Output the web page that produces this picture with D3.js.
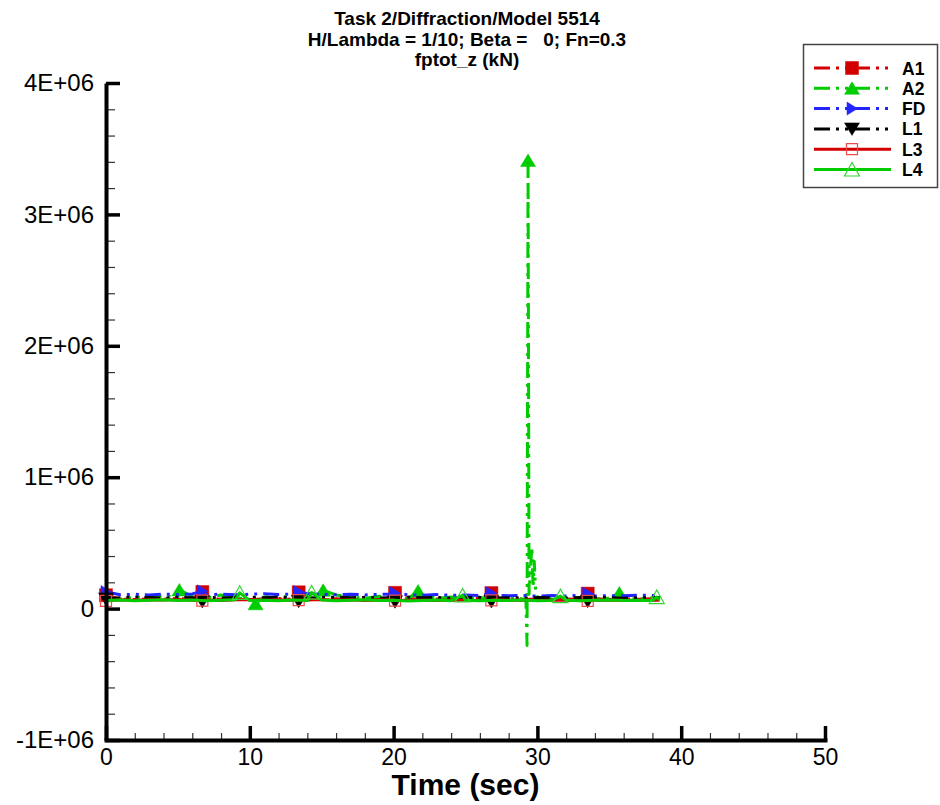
<!DOCTYPE html>
<html><head><meta charset="utf-8">
<script src="https://cdn.jsdelivr.net/npm/d3@7"></script>
<style>
body{margin:0;background:#fff}
svg{display:block}
text{font-family:"Liberation Sans",Arial,Helvetica,sans-serif}
</style>
</head><body>
<svg id="c" width="940" height="805"></svg>
<script>
// ---------- data (kN) ----------
const titleLines = ["Task 2/Diffraction/Model 5514", "H/Lambda = 1/10; Beta =   0; Fn=0.3", "fptot_z (kN)"];
const xTicks = [0, 10, 20, 30, 40, 50];
const yTicks = [-1e6, 0, 1e6, 2e6, 3e6, 4e6];
const yTickLabels = ["-1E+06", "0", "1E+06", "2E+06", "3E+06", "4E+06"];
const seriesNames = ["A1", "A2", "FD", "L1", "L3", "L4"];

const time = [0,1,2,3,4,5,6,7,8,9,10,11,12,13,14,15,16,17,18,19,20,21,22,23,24,25,26,27,28,29,30,31,32,33,34,35,36,37,38,38.5];

const a1 = [76000,72000,69000,75000,71000,77000,73000,78000,72000,76000,70000,74000,77000,71000,76000,72000,75000,69000,74000,77000,73000,76000,70000,74000,71000,75000,77000,72000,74000,70000,73000,69000,74000,71000,75000,70000,73000,72000,76000,74000];
const a1Marks = [[0,102000],[6.7,126000],[13.4,124000],[20.1,120000],[26.8,118000],[33.5,114000]];

const a2 = [84000,74000,89000,79000,99000,84000,94000,79000,104000,84000,69000,89000,99000,79000,94000,84000,104000,89000,79000,94000,84000,74000,99000,79000,89000,74000,84000,69000,79000,74000,84000,79000,69000,84000,74000,79000,72000,76000,82000,84000];
const a2Marks = [[5.1,142000],[10.4,36000],[15.1,139000],[21.7,134000],[29.35,3410000],[35.7,119000]];
const a2Spike = [[29.2,74000],[29.28,-280000],[29.42,110000],[29.52,320000],[29.62,470000],[29.7,160000],[29.78,360000],[29.88,130000]];

const fd = [119000,106000,109000,104000,111000,107000,112000,106000,110000,105000,109000,113000,108000,111000,114000,108000,105000,110000,104000,108000,111000,105000,102000,107000,101000,104000,99000,103000,97000,100000,95000,99000,96000,101000,95000,99000,97000,102000,100000,106000];
const fdMarks = [[0,126000],[6.7,132000],[13.4,126000],[20.1,117000],[26.8,116000],[33.5,114000]];

const l1 = [86000,82000,88000,84000,80000,86000,83000,87000,81000,85000,88000,82000,86000,84000,80000,85000,87000,83000,86000,81000,84000,88000,82000,85000,80000,84000,86000,81000,83000,79000,84000,82000,80000,85000,81000,83000,79000,82000,84000,83000];
const l1Marks = [[0,74000],[6.7,54000],[13.4,56000],[20.1,52000],[26.8,54000],[33.5,56000]];

const l3 = [64000,68000,63000,67000,65000,69000,64000,66000,62000,67000,70000,64000,68000,63000,66000,69000,64000,67000,62000,66000,68000,63000,65000,61000,66000,64000,62000,67000,63000,65000,61000,64000,66000,62000,65000,63000,64000,61000,65000,64000];
const l3Marks = [[0,59000],[6.7,61000],[13.4,64000],[20.1,60000],[26.8,62000],[33.5,59000]];

const l4 = [62000,66000,60000,64000,68000,61000,65000,59000,63000,67000,61000,64000,60000,66000,62000,65000,59000,63000,67000,61000,64000,58000,62000,66000,60000,64000,59000,63000,61000,65000,59000,62000,64000,60000,63000,66000,61000,64000,62000,65000];
const l4Marks = [[9.3,120000],[14.3,122000],[24.8,100000],[31.6,95000],[38.3,88000]];

// ---------- styles ----------
const RED = "#d20000", GREEN = "#00cc00", BLUE = "#2424ff", BLACK = "#000000";
const DASH = "16,6,3,6,3,6";
const series = [
  {name: seriesNames[0], vals: a1, marks: a1Marks, extra: [], color: RED,   dash: DASH, marker: "square",  filled: true},
  {name: seriesNames[1], vals: a2, marks: a2Marks, extra: a2Spike, color: GREEN, dash: DASH, marker: "triUp",   filled: true},
  {name: seriesNames[2], vals: fd, marks: fdMarks, extra: [], color: BLUE,  dash: DASH, marker: "triRight",filled: true},
  {name: seriesNames[3], vals: l1, marks: l1Marks, extra: [], color: BLACK, dash: DASH, marker: "triDown", filled: true},
  {name: seriesNames[4], vals: l3, marks: l3Marks, extra: [], color: RED,   dash: null, marker: "oSquare", filled: false, mcolor: "#ee4a4a"},
  {name: seriesNames[5], vals: l4, marks: l4Marks, extra: [], color: GREEN, dash: null, marker: "oTriUp",  filled: false, mcolor: "#33d633"}
];

function markerPath(type) {
  switch (type) {
    case "square": return "M-6.5,-6.5h13v13h-13Z";
    case "triUp": return "M0,-6.5L7.5,6L-7.5,6Z";
    case "triDown": return "M0,6.5L7.5,-6L-7.5,-6Z";
    case "triRight": return "M5.5,0L-5,-6.5L-5,6.5Z";
    case "oSquare": return "M-5.5,-5.5h11v11h-11Z";
    case "oTriUp": return "M0,-7L7.5,6.5L-7.5,6.5Z";
  }
}

// ---------- chart ----------
const svg = d3.select("#c");
const x = d3.scaleLinear().domain([0, 50]).range([106, 825]);
const y = d3.scaleLinear().domain([-1e6, 4e6]).range([740, 83]);

// title
const title = svg.append("g").attr("font-weight", "bold").attr("font-size", 19).attr("text-anchor", "middle");
titleLines.forEach((t, i) => {
  title.append("text").attr("x", 467).attr("y", 25 + i * 20.7).attr("xml:space", "preserve").style("white-space", "pre").text(t);
});

// minor ticks
const yMinor = d3.range(-1e6, 4e6 + 1, 2e5).filter(v => yTicks.indexOf(Math.round(v)) < 0);
const xMinor = d3.range(0, 51, 2).filter(v => xTicks.indexOf(v) < 0);

svg.append("g").attr("transform", "translate(106,0)")
  .call(d3.axisLeft(y).tickValues(yMinor).tickSize(-9).tickFormat(""))
  .call(g => g.select(".domain").remove())
  .call(g => g.selectAll(".tick line").attr("stroke", "#333").attr("stroke-width", 1.2));
svg.append("g").attr("transform", "translate(0,740)")
  .call(d3.axisBottom(x).tickValues(xMinor).tickSize(-7).tickFormat(""))
  .call(g => g.select(".domain").remove())
  .call(g => g.selectAll(".tick line").attr("stroke", "#333").attr("stroke-width", 1.2));

// series
const line = d3.line().x(d => x(d[0])).y(d => y(d[1]));
const plot = svg.append("g");
series.forEach(s => {
  const pts = time.map((t, i) => [t, s.vals[i]]).concat(s.marks, s.extra).sort((a, b) => a[0] - b[0]);
  plot.append("path").attr("d", line(pts)).attr("fill", "none")
    .attr("stroke", s.color).attr("stroke-width", 3)
    .attr("stroke-dasharray", s.dash).attr("stroke-linejoin", "round");
  plot.selectAll(null).data(s.marks).enter().append("path")
    .attr("transform", d => `translate(${x(d[0])},${y(d[1])})`)
    .attr("d", markerPath(s.marker))
    .attr("fill", s.filled ? s.color : "none")
    .attr("stroke", s.filled ? s.color : s.mcolor)
    .attr("stroke-width", s.filled ? 0.5 : 1.2);
});

// major axes
const yAxis = svg.append("g").attr("transform", "translate(106,0)")
  .call(d3.axisLeft(y).tickValues(yTicks).tickSize(-14).tickSizeOuter(0).tickPadding(12)
    .tickFormat((d, i) => yTickLabels[i]));
yAxis.select(".domain").attr("stroke", "#000").attr("stroke-width", 4);
yAxis.selectAll(".tick line").attr("stroke", "#000").attr("stroke-width", 3.5);
yAxis.selectAll(".tick text").attr("font-size", 24).attr("fill", "#000").attr("font-family", '"Liberation Sans",Arial,sans-serif');

const xAxis = svg.append("g").attr("transform", "translate(0,740)")
  .call(d3.axisBottom(x).tickValues(xTicks).tickSize(-14).tickSizeOuter(0).tickPadding(9).tickFormat(d3.format("d")));
xAxis.select(".domain").attr("stroke", "#000").attr("stroke-width", 4).attr("stroke-linecap", "square");
xAxis.selectAll(".tick line").attr("stroke", "#000").attr("stroke-width", 3.5);
xAxis.selectAll(".tick text").attr("font-size", 23).attr("fill", "#000").attr("font-family", '"Liberation Sans",Arial,sans-serif');

svg.append("text").attr("x", 465.5).attr("y", 795).attr("text-anchor", "middle")
  .attr("font-size", 30).attr("font-weight", "bold").text("Time (sec)");

// legend
const lg = svg.append("g");
lg.append("rect").attr("x", 803.5).attr("y", 44.5).attr("width", 134).attr("height", 143)
  .attr("fill", "#fff").attr("stroke", "#444").attr("stroke-width", 1.5);
series.forEach((s, i) => {
  const ly = 68 + i * 20.3;
  lg.append("line").attr("x1", 814).attr("x2", 891).attr("y1", ly).attr("y2", ly)
    .attr("stroke", s.color).attr("stroke-width", 3).attr("stroke-dasharray", s.dash);
  lg.append("path").attr("transform", `translate(852,${ly})`).attr("d", markerPath(s.marker))
    .attr("fill", s.filled ? s.color : "none")
    .attr("stroke", s.filled ? s.color : s.mcolor)
    .attr("stroke-width", s.filled ? 0.5 : 1.2);
  lg.append("text").attr("x", 902).attr("y", ly + 6.5).attr("font-size", 17.5).attr("font-weight", "bold").text(s.name);
});
</script>
</body></html>
